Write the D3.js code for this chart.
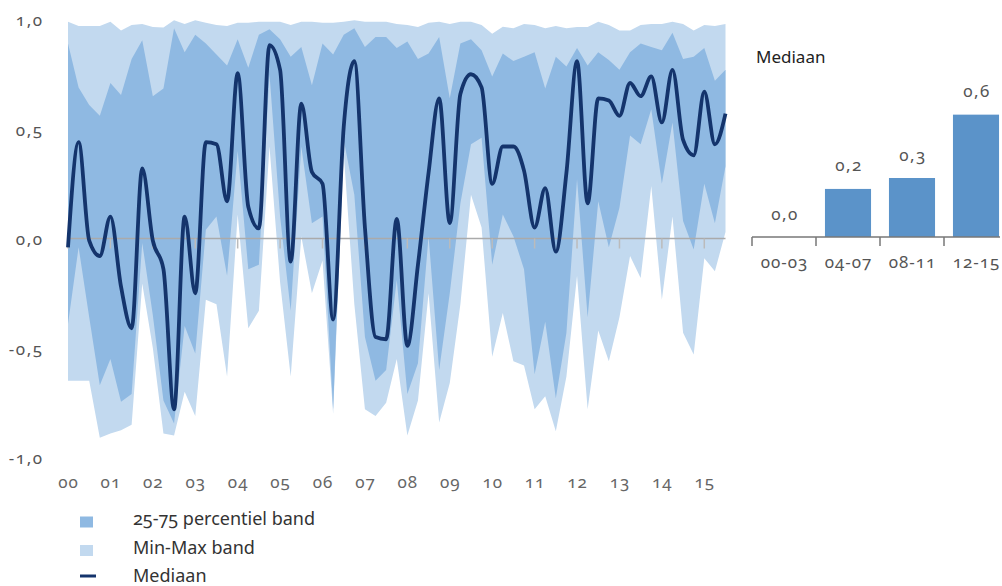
<!DOCTYPE html>
<html><head><meta charset="utf-8">
<script src="https://cdn.jsdelivr.net/npm/d3@7"></script>
<style>
body{margin:0;background:#fff;}
svg text{font-family:"Noto Sans","Open Sans",Lato,sans-serif;font-variant-numeric:oldstyle-nums;font-feature-settings:"onum" 1;}
</style></head>
<body><svg id="c" width="1002" height="586"></svg>
<script>
const maxV = [0.99,0.97,0.97,0.97,0.99,0.95,0.975,0.98,0.966,0.963,0.997,0.98,0.997,0.985,0.975,0.97,
0.985,0.985,0.99,0.99,0.99,0.975,0.99,0.99,0.985,0.985,0.99,0.997,0.99,0.99,0.99,0.98,
0.975,0.966,0.985,0.99,0.98,0.99,0.99,0.975,0.935,0.967,0.96,0.98,0.975,0.96,0.97,
0.96,0.966,0.966,0.99,0.975,0.95,0.95,0.975,0.98,0.98,0.99,0.98,0.95,0.975,0.97,0.98];
const p75 = [0.89,0.69,0.61,0.56,0.71,0.655,0.82,0.905,0.65,0.685,0.96,0.85,0.93,0.89,0.84,0.79,
0.91,0.78,0.93,0.955,0.91,0.83,0.875,0.70,0.89,0.84,0.93,0.96,0.875,0.92,0.92,0.87,
0.90,0.82,0.845,0.92,0.64,0.89,0.91,0.86,0.74,0.845,0.81,0.83,0.85,0.685,0.83,
0.785,0.87,0.79,0.85,0.815,0.77,0.85,0.89,0.875,0.86,0.94,0.82,0.83,0.87,0.72,0.77];
const median = [-0.04,0.44,-0.01,-0.08,0.10,-0.22,-0.41,0.32,-0.01,-0.14,-0.78,0.10,-0.25,0.44,0.43,0.17,
0.755,0.145,0.046,0.883,0.77,-0.105,0.616,0.304,0.25,-0.37,0.51,0.81,0.05,-0.45,-0.46,0.09,
-0.49,-0.12,0.30,0.64,0.07,0.66,0.75,0.69,0.25,0.42,0.42,0.31,0.05,0.23,-0.06,
0.30,0.81,0.16,0.64,0.63,0.56,0.71,0.65,0.74,0.53,0.77,0.45,0.38,0.67,0.43,0.57];
const p25 = [-0.39,-0.04,-0.36,-0.67,-0.55,-0.745,-0.71,-0.02,-0.35,-0.74,-0.845,-0.40,-0.525,0.04,0.10,-0.17,
0.40,-0.14,-0.12,0.75,0.10,-0.33,0.42,0.07,0.10,-0.78,0.45,0.20,-0.45,-0.65,-0.60,-0.19,
-0.71,-0.57,0.01,-0.60,-0.25,0.16,0.43,0.46,-0.12,0.11,0.01,-0.14,-0.62,-0.38,-0.73,
-0.43,0.27,-0.36,0.17,-0.04,0.14,0.47,0.43,0.59,0.25,0.53,0.08,-0.05,0.25,0.07,0.33];
const minV = [-0.65,-0.65,-0.65,-0.91,-0.89,-0.875,-0.85,-0.205,-0.50,-0.89,-0.90,-0.70,-0.81,-0.28,-0.30,-0.63,
0.11,-0.41,-0.33,0.42,-0.20,-0.63,0.01,-0.25,-0.10,-0.80,0.39,-0.30,-0.78,-0.81,-0.75,-0.55,
-0.90,-0.74,-0.25,-0.84,-0.66,-0.30,0.20,0.05,-0.54,-0.34,-0.56,-0.58,-0.78,-0.72,-0.88,
-0.63,-0.17,-0.78,-0.42,-0.56,-0.36,-0.08,-0.18,0.24,-0.28,0.10,-0.43,-0.53,-0.09,-0.15,0.03];
const yearLabels = ["00","01","02","03","04","05","06","07","08","09","10","11","12","13","14","15"];
const yTicks = [1,0.5,0,-0.5,-1];
const barCats = ["00-03","04-07","08-11","12-15"];
const barVals = [0.0,0.22,0.27,0.56];
const legendItems = ["25-75 percentiel band","Min-Max band","Mediaan"];

const col = {light:"#c2d9ef", dark:"#8fb9e2", line:"#14346c", bar:"#5b93c9", text:"#555", axis:"#aaa"};
const loc = d3.formatLocale({decimal:",",thousands:".",grouping:[3],currency:["",""],minus:"-"});
const f1 = loc.format(".1f");

const svg = d3.select("#c");
const n = median.length;
const x = d3.scaleLinear().domain([0, n-1]).range([68, 725.5]);
const y = d3.scaleLinear().domain([-1, 1]).range([457.5, 19.5]);
const idx = d3.range(n);

const areaMM = d3.area().x(i=>x(i)).y0(i=>y(minV[i])).y1(i=>y(maxV[i]));
const areaQ = d3.area().x(i=>x(i)).y0(i=>y(p25[i])).y1(i=>y(p75[i]));
svg.append("path").attr("d", areaMM(idx)).attr("fill", col.light);
svg.append("path").attr("d", areaQ(idx)).attr("fill", col.dark);

// zero line and year ticks
svg.append("line").attr("x1", x(0)).attr("x2", x(n-1)).attr("y1", y(0)).attr("y2", y(0))
  .attr("stroke", col.axis).attr("stroke-width", 1.3);
svg.append("g").selectAll("line").data(yearLabels).join("line")
  .attr("x1", (d,k)=>x(4*k)).attr("x2", (d,k)=>x(4*k))
  .attr("y1", y(0)).attr("y2", y(0)+10)
  .attr("stroke", "#bbb").attr("stroke-width", 1.5);

// median
svg.append("path").attr("d", d3.line().x(i=>x(i)).y(i=>y(median[i])).curve(d3.curveMonotoneX)(idx))
  .attr("fill","none").attr("stroke", col.line).attr("stroke-width", 3.8).attr("stroke-linejoin","round");

// y labels
svg.append("g").selectAll("text").data(yTicks).join("text")
  .attr("x", 43.5).attr("y", d=>y(d)+6.5).attr("text-anchor","end")
  .attr("font-size", 17).attr("letter-spacing", 1.5).attr("fill", col.text).text(d=>f1(d));
// x labels
svg.append("g").selectAll("text").data(yearLabels).join("text")
  .attr("x", (d,k)=>x(4*k)+0.5).attr("y", 488).attr("text-anchor","middle")
  .attr("font-size", 17).attr("letter-spacing", 1).attr("fill", "#666").text(d=>d);

// legend
const lg = svg.append("g");
lg.append("rect").attr("x",80).attr("y",516.5).attr("width",13).attr("height",11).attr("fill",col.dark);
lg.append("rect").attr("x",80).attr("y",545).attr("width",13).attr("height",11).attr("fill",col.light);
lg.append("line").attr("x1",80).attr("x2",96).attr("y1",576).attr("y2",576).attr("stroke",col.line).attr("stroke-width",3);
lg.selectAll("text").data(legendItems).join("text")
  .attr("x",133).attr("y",(d,k)=>525+k*28.5).attr("font-size",18).attr("fill","#333").text(d=>d);

// bar chart
const xb = d3.scaleBand().domain(barCats).range([752, 1008]).paddingInner(0.28).paddingOuter(0.14);
const yb = d3.scaleLinear().domain([0, 1]).range([237, 18.5]);
svg.append("text").attr("x",756).attr("y",63).attr("font-size",17).attr("fill","#222").text("Mediaan");
svg.append("g").selectAll("rect").data(barCats).join("rect")
  .attr("x", d=>xb(d)).attr("width", xb.bandwidth())
  .attr("y", (d,k)=>yb(barVals[k])).attr("height", (d,k)=>yb(0)-yb(barVals[k]))
  .attr("fill", col.bar);
svg.append("g").selectAll("text").data(barCats).join("text")
  .attr("x", d=>xb(d)+xb.bandwidth()/2+1).attr("y", (d,k)=>yb(barVals[k])-17.5)
  .attr("text-anchor","middle").attr("font-size",17).attr("letter-spacing", 1.5)
  .attr("fill",col.text).text((d,k)=>f1(barVals[k]));
svg.append("line").attr("x1",752).attr("x2",1000).attr("y1",yb(0)).attr("y2",yb(0))
  .attr("stroke","#777").attr("stroke-width",1.5);
svg.append("g").selectAll("line").data(barCats).join("line")
  .attr("x1", d=>xb(d)-xb.step()*0.14).attr("x2", d=>xb(d)-xb.step()*0.14)
  .attr("y1", yb(0)).attr("y2", yb(0)+9).attr("stroke","#777").attr("stroke-width",1.5);
svg.append("g").selectAll("text").data(barCats).join("text")
  .attr("x", d=>xb(d)+xb.bandwidth()/2+0.5).attr("y", 267.5).attr("text-anchor","middle")
  .attr("font-size",17).attr("letter-spacing", 1).attr("fill",col.text).text(d=>d);
</script></body></html>
